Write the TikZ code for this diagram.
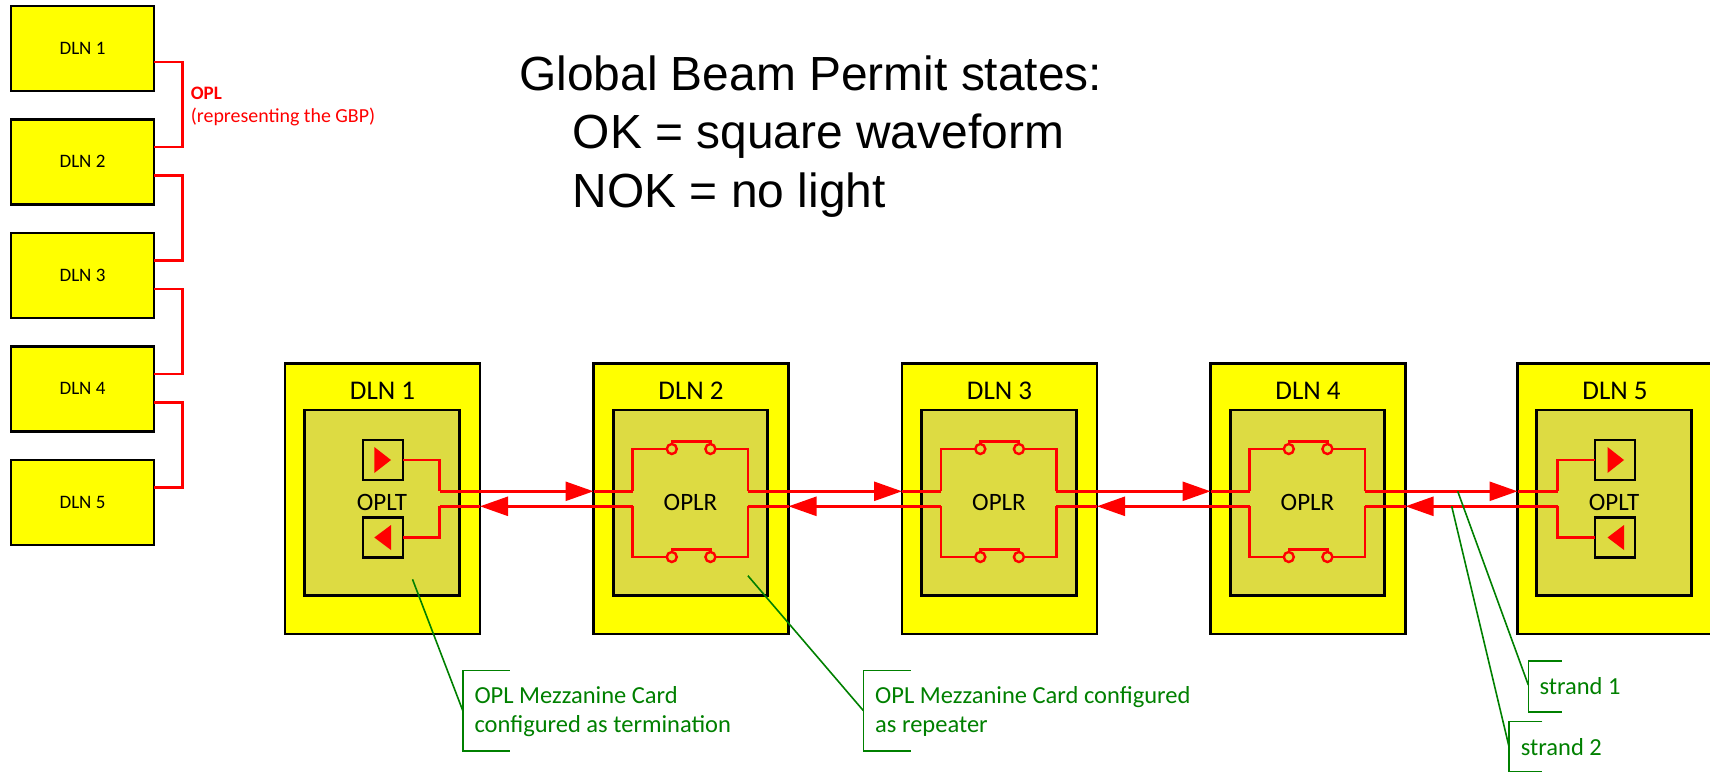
\documentclass[tikz,border=0pt]{standalone}
\usepackage{fontspec}
\setmainfont{Carlito}
\newfontfamily\titlefont{Liberation Sans}
\usetikzlibrary{arrows.meta}
\definecolor{dlnfill}{RGB}{255,255,0}
\definecolor{cardfill}{RGB}{221,219,66}
\definecolor{notegreen}{RGB}{0,128,0}
\begin{document}
\begin{tikzpicture}[x=1pt, y=-1pt]
\tikzset{smallnoeud/.style={draw, line width=2.4pt, fill=dlnfill, outer sep=0pt, minimum width=143pt, minimum height=85pt}}
\tikzset{dlnnoeud/.style={draw, line width=2.8pt, fill=dlnfill, outer sep=0pt, minimum width=195pt, minimum height=270.5pt}}
\tikzset{cardnoeud/.style={draw, line width=2.6pt, fill=cardfill, outer sep=0pt, minimum width=154.5pt, minimum height=185.7pt}}
\tikzset{portnoeud/.style={draw, line width=2.6pt, outer sep=0pt, minimum width=40pt, minimum height=40pt}}
\tikzset{contact/.style={draw=red, line width=2.4pt, fill=cardfill, circle, inner sep=0pt, outer sep=0pt, minimum size=10pt}}
\tikzset{wire/.style={draw=red, line width=2.6pt}}
\tikzset{link/.style={wire, -{Triangle[length=28pt, width=19pt]}}}
\tikzset{note/.style={draw=notegreen, line width=1.6pt}}
\tikzset{smalltxt/.style={anchor=base, inner sep=0pt, font=\fontsize{19}{23}\selectfont}}
\tikzset{bigtxt/.style={anchor=base, inner sep=0pt, font=\fontsize{27}{32}\selectfont}}
\tikzset{cardtxt/.style={anchor=base, inner sep=0pt, font=\fontsize{25}{30}\selectfont}}
\tikzset{notetxt/.style={anchor=base west, inner sep=0pt, text=notegreen, font=\fontsize{24.5}{29}\selectfont}}
\tikzset{titletxt/.style={anchor=base west, inner sep=0pt, font=\titlefont\fontsize{47.9}{55}\selectfont}}
\useasboundingbox (0,0) rectangle (1710,771);
\clip (0,0) rectangle (1710,771);
% left column
\node[smallnoeud] (S1) at (82.5,48.5) {};
\node[smallnoeud] (S2) at (82.5,162) {};
\node[smallnoeud] (S3) at (82.5,275.5) {};
\node[smallnoeud] (S4) at (82.5,389) {};
\node[smallnoeud] (S5) at (82.5,502.5) {};
\node[smalltxt] (S1t) at (82.5,54) {DLN 1};
\node[smalltxt] (S2t) at (82.5,167.5) {DLN 2};
\node[smalltxt] (S3t) at (82.5,281) {DLN 3};
\node[smalltxt] (S4t) at (82.5,394.5) {DLN 4};
\node[smalltxt] (S5t) at (82.5,508) {DLN 5};
\coordinate (O1) at (182.6,62);
\coordinate (O2) at (182.6,175.5);
\coordinate (O3) at (182.6,289);
\coordinate (O4) at (182.6,402.5);
\draw[wire] (O1 -| S1.east) -- (O1) -- (O1 |- 0,147) -- (S2.east |- 0,147);
\draw[wire] (O2 -| S2.east) -- (O2) -- (O2 |- 0,260.5) -- (S3.east |- 0,260.5);
\draw[wire] (O3 -| S3.east) -- (O3) -- (O3 |- 0,374) -- (S4.east |- 0,374);
\draw[wire] (O4 -| S4.east) -- (O4) -- (O4 |- 0,487.5) -- (S5.east |- 0,487.5);
\node[anchor=base west, inner sep=0pt, text=red, font=\bfseries\fontsize{19}{24}\selectfont] (Oa) at (190.7,99) {OPL};
\node[anchor=base west, inner sep=0pt, text=red, font=\fontsize{19.9}{24}\selectfont] (Ob) at (190.7,122.7) {(representing the GBP)};
% title
\node[titletxt] (G1) at (519,90) {Global Beam Permit states:};
\node[titletxt] (G2) at (572.6,148) {OK = square waveform};
\node[titletxt] (G3) at (572.6,207) {NOK = no light};
% chassis
\node[dlnnoeud] (D1) at (382.5,498.8) {};
\node[dlnnoeud] (D2) at (691,498.8) {};
\node[dlnnoeud] (D3) at (999.5,498.8) {};
\node[dlnnoeud] (D4) at (1308,498.8) {};
\node[dlnnoeud] (D5) at (1615,498.8) {};
\node[cardnoeud] (K1) at (382,502.8) {};
\node[cardnoeud] (K2) at (690.5,502.8) {};
\node[cardnoeud] (K3) at (999,502.8) {};
\node[cardnoeud] (K4) at (1307.5,502.8) {};
\node[cardnoeud] (K5) at (1614,502.8) {};
\node[bigtxt] (D1t) at (382.5,399) {DLN 1};
\node[bigtxt] (D2t) at (691,399) {DLN 2};
\node[bigtxt] (D3t) at (999.5,399) {DLN 3};
\node[bigtxt] (D4t) at (1308,399) {DLN 4};
\node[bigtxt] (D5t) at (1615,399) {DLN 5};
\node[cardtxt] (K1t) at (382,510) {OPLT};
\node[cardtxt] (K2t) at (690.5,510) {OPLR};
\node[cardtxt] (K3t) at (999,510) {OPLR};
\node[cardtxt] (K4t) at (1307.5,510) {OPLR};
\node[cardtxt] (K5t) at (1614,510) {OPLT};
% ports
\node[portnoeud] (P1a) at (383,460) {};
\node[portnoeud] (P1b) at (383,537.5) {};
\node[portnoeud] (P5a) at (1615,460) {};
\node[portnoeud] (P5b) at (1615,537.5) {};
\fill[red] (374.3,447) -- (391,460) -- (374.3,473) -- cycle;
\fill[red] (391,525) -- (374.3,537.5) -- (391,550) -- cycle;
\fill[red] (1607.5,447) -- (1624,460) -- (1607.5,473) -- cycle;
\fill[red] (1624,525) -- (1607.5,537.5) -- (1624,550) -- cycle;
% contacts
\node[contact] (C2a) at (671.8,449) {};
\node[contact] (C2b) at (710.4,449) {};
\node[contact] (C2c) at (671.8,557) {};
\node[contact] (C2d) at (710.4,557) {};
\node[contact] (C3a) at (980.3,449) {};
\node[contact] (C3b) at (1018.9,449) {};
\node[contact] (C3c) at (980.3,557) {};
\node[contact] (C3d) at (1018.9,557) {};
\node[contact] (C4a) at (1288.8,449) {};
\node[contact] (C4b) at (1327.4,449) {};
\node[contact] (C4c) at (1288.8,557) {};
\node[contact] (C4d) at (1327.4,557) {};
\draw[wire] (C2a.north) -- ++(0,-2.5) -| (C2b.north);
\draw[wire] (C2c.north) -- ++(0,-2.5) -| (C2d.north);
\draw[wire] (C3a.north) -- ++(0,-2.5) -| (C3b.north);
\draw[wire] (C3c.north) -- ++(0,-2.5) -| (C3d.north);
\draw[wire] (C4a.north) -- ++(0,-2.5) -| (C4b.north);
\draw[wire] (C4c.north) -- ++(0,-2.5) -| (C4d.north);
% bends of the strands
\coordinate (U1) at (439.6,491.3);
\coordinate (W1) at (439.6,506.3);
\coordinate (U2L) at (632.5,491.3);
\coordinate (W2L) at (632.5,506.3);
\coordinate (U2R) at (747.9,491.3);
\coordinate (W2R) at (747.9,506.3);
\coordinate (U3L) at (941,491.3);
\coordinate (W3L) at (941,506.3);
\coordinate (U3R) at (1056.4,491.3);
\coordinate (W3R) at (1056.4,506.3);
\coordinate (U4L) at (1249.5,491.3);
\coordinate (W4L) at (1249.5,506.3);
\coordinate (U4R) at (1364.9,491.3);
\coordinate (W4R) at (1364.9,506.3);
\coordinate (U5) at (1557.5,491.3);
\coordinate (W5) at (1557.5,506.3);
% strands inside the cards
\draw[wire] (P1a.east) -| (U1);
\draw[wire] (P1b.east) -| (W1);
\draw[wire] (P5a.west) -| (U5);
\draw[wire] (P5b.west) -| (W5);
\draw[wire] (U2L) |- (C2a.west);
\draw[wire] (W2L) |- (C2c.west);
\draw[wire] (U2R) |- (C2b.east);
\draw[wire] (W2R) |- (C2d.east);
\draw[wire] (U3L) |- (C3a.west);
\draw[wire] (W3L) |- (C3c.west);
\draw[wire] (U3R) |- (C3b.east);
\draw[wire] (W3R) |- (C3d.east);
\draw[wire] (U4L) |- (C4a.west);
\draw[wire] (W4L) |- (C4c.west);
\draw[wire] (U4R) |- (C4b.east);
\draw[wire] (W4R) |- (C4d.east);
% strands between the chassis
\draw[wire] (U2L) -- (U2L -| D2.west);
\draw[link] (U1) -- (U1 -| D2.west);
\draw[wire] (W1) -- (W1 -| D1.east);
\draw[link] (W2L) -- (W2L -| D1.east);
\draw[wire] (U3L) -- (U3L -| D3.west);
\draw[link] (U2R) -- (U2R -| D3.west);
\draw[wire] (W2R) -- (W2R -| D2.east);
\draw[link] (W3L) -- (W3L -| D2.east);
\draw[wire] (U4L) -- (U4L -| D4.west);
\draw[link] (U3R) -- (U3R -| D4.west);
\draw[wire] (W3R) -- (W3R -| D3.east);
\draw[link] (W4L) -- (W4L -| D3.east);
\draw[wire] (U5) -- (U5 -| D5.west);
\draw[link] (U4R) -- (U4R -| D5.west);
\draw[wire] (W4R) -- (W4R -| D4.east);
\draw[link] (W5) -- (W5 -| D4.east);
% notes
\coordinate (N1) at (412.5,579.3);
\coordinate (N1m) at (462.8,710.7);
\coordinate (N1t) at (509.8,670.3);
\coordinate (N1b) at (509.8,750.7);
\draw[note] (N1) -- (N1m);
\draw[note] (N1t) -| (N1m) |- (N1b);
\node[notetxt] (N1x) at (474.3,703.3) {OPL Mezzanine Card};
\node[notetxt] (N1y) at (474.3,732.7) {configured as termination};
\coordinate (N2) at (747.9,575.7);
\coordinate (N2m) at (863.4,710.7);
\coordinate (N2t) at (910.5,670.3);
\coordinate (N2b) at (910.5,750.7);
\draw[note] (N2) -- (N2m);
\draw[note] (N2t) -| (N2m) |- (N2b);
\node[notetxt] (N2x) at (875,703.3) {OPL Mezzanine Card configured};
\node[notetxt] (N2y) at (875,732.7) {as repeater};
\coordinate (N3) at (1457.7,491.3);
\coordinate (N3m) at (1528.3,685);
\coordinate (N3t) at (1561.7,660.7);
\coordinate (N3b) at (1561.7,711.7);
\draw[note] (N3) -- (N3m);
\draw[note] (N3t) -| (N3m) |- (N3b);
\node[notetxt] (N3x) at (1539.3,694) {strand 1};
\coordinate (N4) at (1451.7,506.3);
\coordinate (N4m) at (1509,746.7);
\coordinate (N4t) at (1542.3,721.3);
\coordinate (N4b) at (1542.3,772);
\draw[note] (N4) -- (N4m);
\draw[note] (N4t) -| (N4m) |- (N4b);
\node[notetxt] (N4x) at (1520.7,755) {strand 2};
\end{tikzpicture}
\end{document}
